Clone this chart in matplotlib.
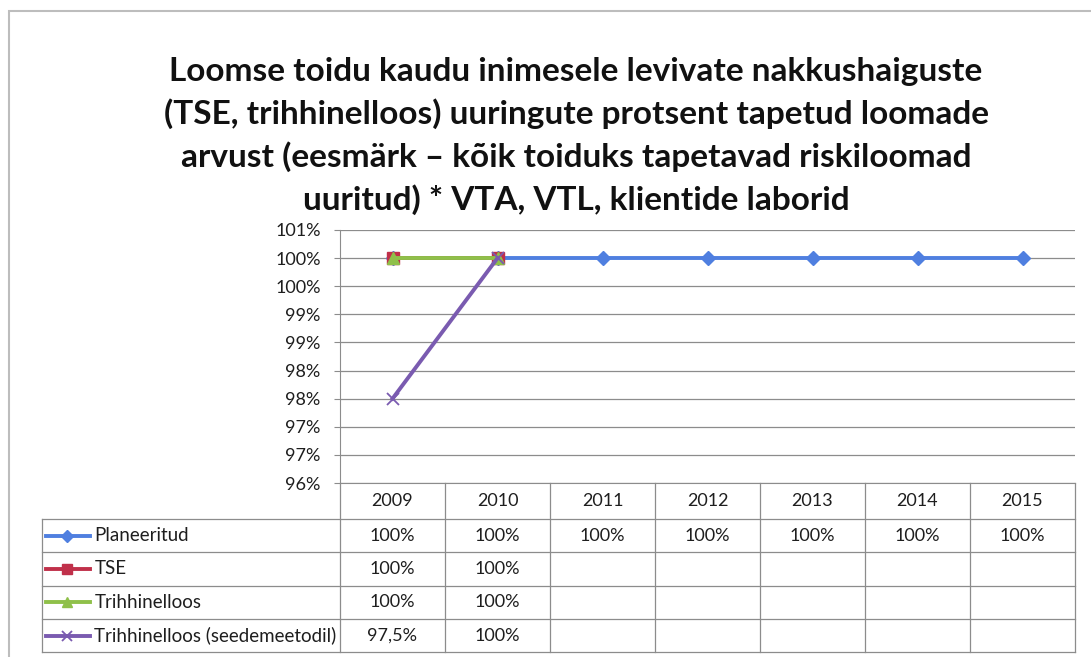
import matplotlib.pyplot as plt
from matplotlib.patches import Rectangle
import numpy as np

plt.rcParams['font.family'] = ['Lato', 'DejaVu Sans']

years = ['2009', '2010', '2011', '2012', '2013', '2014', '2015']
series_names = ['Planeeritud', 'TSE', 'Trihhinelloos', 'Trihhinelloos (seedemeetodil)']
planeeritud = [100, 100, 100, 100, 100, 100, 100]
tse = [100, 100, None, None, None, None, None]
trihhinelloos = [100, 100, None, None, None, None, None]
seedemeetodil = [97.5, 100, None, None, None, None, None]
table_text = [
    ['100%', '100%', '100%', '100%', '100%', '100%', '100%'],
    ['100%', '100%', '', '', '', '', ''],
    ['100%', '100%', '', '', '', '', ''],
    ['97,5%', '100%', '', '', '', '', ''],
]
y_ticks = [96, 96.5, 97, 97.5, 98, 98.5, 99, 99.5, 100, 100.5]

title = ("Loomse toidu kaudu inimesele levivate nakkushaiguste\n"
         "(TSE, trihhinelloos) uuringute protsent tapetud loomade\n"
         "arvust (eesmärk – kõik toiduks tapetavad riskiloomad\n"
         "uuritud) * VTA, VTL, klientide laborid")

styles = [
    dict(color='#4f7fe0', marker='D', ms=7.5),
    dict(color='#c0304a', marker='s', ms=9),
    dict(color='#8fc04a', marker='^', ms=8.5),
    dict(color='#7a5bb0', marker='x', ms=9, mew=1.3),
]
values = [planeeritud, tse, trihhinelloos, seedemeetodil]
txt_col = '#1e1e1e'

W, H = 1091, 657
fig = plt.figure(figsize=(W / 100, H / 100), dpi=100)
fig.patches.append(Rectangle((9 / W, -0.1), 1.2, 1.1 - 11 / H, transform=fig.transFigure,
                             fill=False, ec='#bdbdbd', lw=1.5))

ax = fig.add_axes([340 / W, 1 - 483 / H, 735 / W, 253 / H])
x = np.arange(len(years))
for vals, st in zip(values, styles):
    y = np.array([np.nan if v is None else v for v in vals], dtype=float)
    ax.plot(x, y, lw=2.8, zorder=3, clip_on=False, **st)

ax.set_xlim(-0.5, len(years) - 0.5)
ax.set_ylim(96, 100.5)
ax.set_yticks(y_ticks)
ax.set_yticklabels([f"{int(np.floor(v + 0.5))}%" for v in y_ticks], fontsize=13,
                   color=txt_col)
ax.yaxis.grid(True, color='#8c8c8c', lw=0.9)
ax.set_xticks([])
for s in ['top', 'right']:
    ax.spines[s].set_visible(False)
for s in ['left', 'bottom']:
    ax.spines[s].set_color('#8c8c8c')
ax.tick_params(axis='y', color='#8c8c8c', length=4, pad=10)

# data table below the plot
tr = ax.get_xaxis_transform()
head_h = 36 / 253
row_h = 33.3 / 253
leg_w = 2.84
grid_kw = dict(color='#8c8c8c', lw=0.9, transform=tr, clip_on=False)
n_rows = len(series_names)
bottom = -head_h - n_rows * row_h
left = -0.5 - leg_w
right = len(years) - 0.5

for i in range(len(years) + 1):
    ax.plot([i - 0.5, i - 0.5], [0, bottom], **grid_kw)
ax.plot([left, left], [-head_h, bottom], **grid_kw)
for r in range(n_rows + 1):
    yy = -head_h - r * row_h
    ax.plot([left, right], [yy, yy], **grid_kw)

for i, yr in enumerate(years):
    ax.text(i, -head_h / 2, yr, ha='center', va='center', fontsize=13,
            color=txt_col, transform=tr)

for r, (name, st, row) in enumerate(zip(series_names, styles, table_text)):
    yc = -head_h - (r + 0.5) * row_h
    ax.plot([left + 0.04, left + 0.46], [yc, yc], lw=2.8, transform=tr, clip_on=False,
            color=st['color'])
    ax.plot([left + 0.24], [yc], transform=tr, clip_on=False, color=st['color'],
            marker=st['marker'], ms=st['ms'] * 0.85, mew=st.get('mew', 1))
    ax.text(left + 0.5, yc, name, ha='left', va='center', fontsize=13.5,
            color=txt_col, transform=tr)
    for i, t in enumerate(row):
        ax.text(i, yc, t, ha='center', va='center', fontsize=13,
                color=txt_col, transform=tr)

fig.text(0.528, 1 - 57 / H, title, ha='center', va='top', fontsize=24,
         fontweight='bold', linespacing=1.48, color='#111111')

plt.savefig('out.png', dpi=100)
